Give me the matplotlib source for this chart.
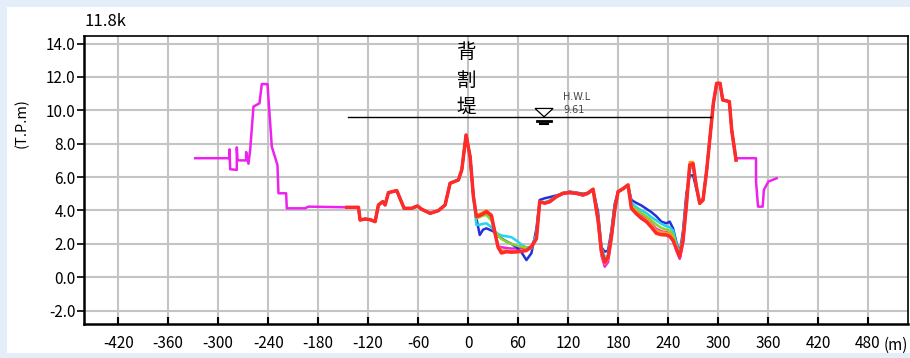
import matplotlib
matplotlib.use("Agg")
import matplotlib.pyplot as plt
from matplotlib.patches import Rectangle, Polygon

plt.rcParams['font.family'] = ['Noto Sans CJK JP', 'DejaVu Sans']
plt.rcParams['axes.unicode_minus'] = False

# 11.8k 横断面 (T.P.m)
X_TICKS = [-420, -360, -300, -240, -180, -120, -60, 0, 60, 120, 180, 240, 300, 360, 420, 480]
Y_TICKS = [-2.0, 0.0, 2.0, 4.0, 6.0, 8.0, 10.0, 12.0, 14.0]
HWL = 9.61
HWL_X = [-144.0, 292.0]

# 旧測量 (左岸側の高水敷)
MAG_LEFT_X = [-327.6, -286.4, -286.4, -285.6, -277.6, -277.6, -276.8, -266.4, -266.4, -263.6,
              -261.6, -257.6, -250.4, -247.6, -240.8, -235.6, -228.8, -227.6, -218.4, -217.6,
              -195.6, -191.6]
MAG_LEFT_Y = [7.13, 7.13, 7.66, 6.47, 6.43, 7.78, 7.00, 7.00, 7.50, 6.80,
              7.60, 10.22, 10.42, 11.57, 11.57, 7.82, 6.72, 5.03, 5.03, 4.13,
              4.13, 4.23]

# 全測量共通区間 (背割堤まで)
COMMON_X = [-145.6, -131.6, -129.6, -123.6, -117.6, -111.6, -107.6, -102.4, -99.6, -95.6,
            -85.6, -76.8, -67.6, -60.8, -55.6, -45.6, -35.6, -27.6, -21.6, -11.6,
            -7.6, -2.4, 2.4, 6.4]
COMMON_Y = [4.19, 4.19, 3.43, 3.49, 3.45, 3.33, 4.33, 4.53, 4.33, 5.07,
            5.19, 4.13, 4.13, 4.27, 4.07, 3.83, 3.99, 4.33, 5.63, 5.83,
            6.43, 8.52, 7.22, 4.83]

# 河道部
MID_X = [10, 14, 18, 22, 28, 32, 36, 40, 46, 52, 58, 64, 70, 76, 82, 86, 92, 98, 106, 114,
         122, 130, 138, 144, 150, 156, 160, 164, 168, 172, 176, 180, 186, 192, 196, 202, 208,
         214, 220, 226, 232, 238, 242, 246, 250, 254, 258, 262, 266, 270, 274, 278, 282]
RED_Y = [3.63, 3.70, 3.80, 3.93, 3.70, 2.70, 1.80, 1.45, 1.53, 1.50, 1.52, 1.55, 1.60, 1.83,
         2.30, 4.53, 4.43, 4.53, 4.83, 5.03, 5.07, 5.03, 4.93, 5.05, 5.27, 3.43, 1.60, 0.90,
         1.20, 2.40, 4.03, 5.13, 5.30, 5.53, 4.13, 3.80, 3.53, 3.33, 3.00, 2.63, 2.55, 2.53,
         2.45, 2.20, 1.70, 1.23, 2.20, 4.30, 6.72, 6.80, 5.43, 4.43, 4.63]
BLUE_Y = [3.53, 2.53, 2.85, 2.93, 2.80, 2.70, 2.50, 2.33, 2.15, 2.00, 1.80, 1.50, 1.03, 1.44,
          2.90, 4.63, 4.73, 4.80, 4.90, 5.03, 5.13, 5.07, 5.00, 5.05, 5.25, 3.90, 1.80, 1.53,
          1.60, 2.80, 4.40, 5.10, 5.30, 5.50, 4.63, 4.45, 4.30, 4.10, 3.90, 3.65, 3.33, 3.23,
          3.33, 2.93, 2.10, 1.40, 2.80, 5.00, 6.10, 6.10, 5.30, 4.50, 4.70]
CYAN_Y = [3.13, 3.15, 3.20, 3.23, 3.00, 2.75, 2.60, 2.50, 2.45, 2.40, 2.20, 1.95, 1.78, 1.75,
          2.60, 4.55, 4.50, 4.60, 4.85, 5.05, 5.10, 5.05, 4.95, 5.05, 5.25, 3.60, 1.80, 1.20,
          1.30, 2.60, 4.20, 5.10, 5.30, 5.50, 4.45, 4.20, 4.00, 3.85, 3.60, 3.40, 3.20, 3.05,
          3.00, 2.80, 2.00, 1.35, 2.50, 4.60, 6.50, 6.60, 5.40, 4.50, 4.65]
GREEN_Y = [3.53, 3.60, 3.70, 3.73, 3.40, 2.80, 2.50, 2.30, 2.13, 2.00, 1.90, 1.84, 1.76, 1.74,
           2.40, 4.50, 4.45, 4.55, 4.85, 5.05, 5.10, 5.00, 4.90, 5.00, 5.27, 3.50, 1.70, 1.00,
           1.30, 2.50, 4.10, 5.10, 5.30, 5.50, 4.30, 4.05, 3.85, 3.65, 3.40, 3.15, 2.95, 2.85,
           2.80, 2.55, 1.90, 1.30, 2.40, 4.50, 6.60, 6.70, 5.40, 4.45, 4.60]
ORANGE_Y = [3.70, 3.80, 3.90, 4.00, 3.75, 2.80, 1.90, 1.60, 1.60, 1.55, 1.55, 1.60, 1.65, 1.80,
            2.30, 4.50, 4.45, 4.55, 4.85, 5.05, 5.10, 5.05, 4.95, 5.05, 5.30, 3.30, 1.40, 0.80,
            1.10, 2.30, 4.00, 5.15, 5.35, 5.55, 4.20, 3.90, 3.60, 3.45, 3.15, 2.80, 2.70, 2.65,
            2.60, 2.30, 1.80, 1.30, 2.30, 4.40, 6.90, 6.90, 5.50, 4.40, 4.60]
MAG_MID_Y = [3.60, 3.70, 3.80, 3.90, 3.60, 2.70, 1.84, 1.80, 1.75, 1.72, 1.72, 1.74, 1.75, 1.85,
             2.50, 4.50, 4.45, 4.50, 4.80, 5.00, 5.05, 5.00, 4.90, 5.00, 5.25, 3.30, 1.30, 0.63,
             0.90, 2.30, 4.00, 5.10, 5.30, 5.50, 4.20, 3.95, 3.70, 3.50, 3.20, 2.90, 2.75, 2.70,
             2.60, 2.30, 1.60, 1.10, 2.10, 4.20, 6.70, 6.80, 5.40, 4.40, 4.60]

# 右岸堤防 (共通)
BANK_X = [286.4, 290.4, 294.4, 298.4, 302.4, 305.6, 313.6, 316.4, 321.6]
BANK_Y = [6.42, 8.42, 10.42, 11.62, 11.62, 10.62, 10.52, 8.82, 7.02]

# 旧測量 (右岸側)
MAG_RIGHT_X = [323.2, 345.6, 345.6, 348.0, 353.6, 355.0, 360.4, 370.4]
MAG_RIGHT_Y = [7.13, 7.13, 5.73, 4.23, 4.23, 5.23, 5.73, 5.93]

fig = plt.figure(figsize=(9.1, 3.58), dpi=100)
fig.patch.set_facecolor('#e4eef9')
fig.patches.append(Rectangle((7 / 910, 0.013), 1.0, 0.967, transform=fig.transFigure,
                             facecolor='white', edgecolor='none', zorder=-1))

ax = fig.add_axes([84 / 910, 1 - 324 / 358, 824 / 910, 288 / 358])
ax.set_zorder(2)
ax.set_xlim(-461, 528)
ax.set_ylim(-2.8, 14.45)

ax.grid(True, color='#c4c4c4', linewidth=1.5)
ax.set_axisbelow(True)

mag_x = MAG_LEFT_X + COMMON_X + MID_X + BANK_X + MAG_RIGHT_X
mag_y = MAG_LEFT_Y + COMMON_Y + MAG_MID_Y + BANK_Y + MAG_RIGHT_Y
ax.plot(mag_x, mag_y, color='#ee22ee', linewidth=1.8, zorder=3)

series = [
    (BLUE_Y, '#2430d8'),
    (CYAN_Y, '#22d4f0'),
    (GREEN_Y, '#8ad428'),
    (ORANGE_Y, '#ff9a10'),
    (RED_Y, '#ff2a2a'),
]
for ys, col in series:
    xs = COMMON_X + MID_X + BANK_X
    yy = COMMON_Y + ys + BANK_Y
    lw = 2.5 if col == '#ff2a2a' else 1.8
    ax.plot(xs, yy, color=col, linewidth=lw, zorder=4)

# H.W.L
ax.plot(HWL_X, [HWL, HWL], color='black', linewidth=1.0, zorder=5)
ax.add_patch(Polygon([[80.4, HWL + 0.5], [102.0, HWL + 0.5], [91.2, HWL]], closed=True,
                     facecolor='white', edgecolor='black', linewidth=0.9, zorder=6))
ax.plot([83.0, 99.4], [HWL - 0.24, HWL - 0.24], color='black', linewidth=2.0, zorder=6)
ax.plot([86.4, 96.0], [HWL - 0.42, HWL - 0.42], color='black', linewidth=1.5, zorder=6)
ax.text(114, HWL + 1.16, 'H.W.L', fontsize=7, color='#444444', ha='left', va='center',
        family='DejaVu Sans')
ax.text(114, HWL + 0.41, f'{HWL:.2f}', fontsize=7, color='#444444', ha='left', va='center',
        family='DejaVu Sans')

# 背割堤 (縦書き)
for ch, yv in zip('背割堤', [13.49, 11.81, 10.2]):
    ax.text(-2, yv, ch, fontsize=14, ha='center', va='center', color='black', zorder=7)

ax.set_xticks(X_TICKS)
ax.set_xticklabels([str(v) for v in X_TICKS])
ax.set_yticks(Y_TICKS)
ax.set_yticklabels([f'{v:.1f}' for v in Y_TICKS])
ax.tick_params(axis='x', direction='in', length=5, width=1.5, pad=8, labelsize=11)
ax.tick_params(axis='y', direction='out', length=5, width=1.2, pad=1, labelsize=11)
for side in ['left', 'bottom']:
    ax.spines[side].set_linewidth(1.8)
for side in ['top', 'right']:
    ax.spines[side].set_linewidth(1.2)

fig.text(85 / 910, 1 - 21 / 358, '11.8k', fontsize=12, ha='left', va='center')
fig.text(22 / 910, 1 - 123 / 358, '(T.P.m)', fontsize=10.5, rotation=90, ha='center', va='center')
fig.text(896 / 910, 1 - 345 / 358, '(m)', fontsize=11, ha='center', va='center')

fig.savefig('out.png', dpi=100, facecolor=fig.get_facecolor())
